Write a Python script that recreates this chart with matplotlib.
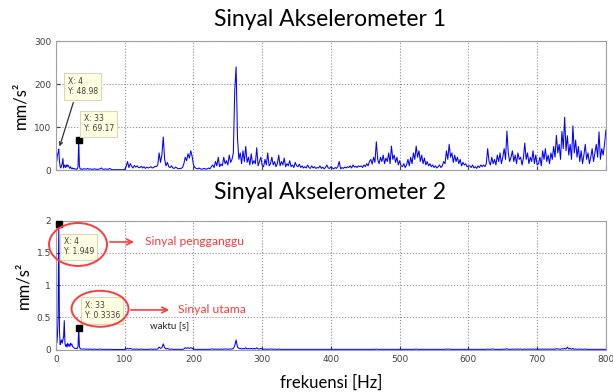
import numpy as np
import matplotlib
matplotlib.use("Agg")
import matplotlib.pyplot as plt
from matplotlib.patches import Ellipse

# frequency grid: 1 Hz steps up to 40 Hz, 2 Hz steps after that
freq_low = list(range(0, 41))
freq_high = list(range(42, 801, 2))

# accelerometer 1 spectrum [mm/s^2]
acc1_low = [30, 20, 35, 40, 48.98, 20, 8, 5, 10, 15, 27, 5, 12, 10, 6, 12, 8, 12, 10, 7,
            4, 8, 5, 3, 5, 3, 4, 3, 2, 3, 2, 3, 8, 69.17, 10, 3, 2, 3, 2, 2, 3]
acc1_high = [
    3, 2, 4, 2, 3, 2, 2, 3, 2, 2,
    2, 3, 5, 2, 2, 3, 2, 2, 4, 2,
    1, 1, 1, 1, 1, 1, 1, 1, 1, 2,
    8, 20, 6, 15, 9, 5, 11, 7, 10, 6,
    6, 9, 5, 8, 4, 7, 5, 6, 8, 5,
    6, 9, 8, 12, 40, 18, 35, 77, 25, 10,
    18, 8, 6, 10, 5, 4, 7, 5, 3, 4,
    4, 6, 15, 30, 22, 38, 28, 45, 32, 12,
    6, 4, 3, 5, 3, 2, 3, 4, 2, 3,
    5, 3, 8, 12, 6, 20, 10, 30, 8, 14,
    10, 30, 15, 22, 12, 35, 18, 25, 40, 185,
    240, 75, 25, 40, 15, 45, 20, 55, 18, 30,
    12, 38, 14, 22, 15, 52, 10, 20, 30, 10,
    8, 25, 12, 40, 10, 15, 30, 12, 20, 8,
    15, 35, 10, 20, 12, 28, 8, 15, 10, 22,
    8, 12, 6, 18, 10, 8, 14, 6, 10, 5,
    8, 5, 12, 6, 4, 10, 5, 8, 4, 6,
    5, 10, 4, 7, 3, 6, 12, 5, 4, 8,
    5, 3, 6, 4, 8, 20, 3, 6, 4, 7,
    5, 8, 6, 10, 5, 12, 7, 9, 6, 10,
    8, 10, 6, 12, 8, 15, 10, 20, 25, 14,
    30, 18, 66, 25, 15, 30, 20, 35, 15, 28,
    20, 40, 15, 56, 25, 35, 18, 30, 12, 22,
    10, 8, 15, 6, 12, 25, 10, 30, 15, 40,
    25, 56, 30, 45, 20, 35, 15, 28, 12, 20,
    10, 15, 8, 12, 6, 10, 5, 8, 12, 6,
    10, 20, 15, 45, 25, 60, 30, 40, 18, 35,
    20, 30, 15, 25, 10, 18, 12, 15, 8, 10,
    10, 6, 12, 5, 8, 4, 10, 6, 12, 8,
    12, 8, 15, 50, 20, 12, 30, 15, 25, 12,
    35, 20, 40, 15, 30, 50, 25, 91, 40, 20,
    30, 45, 20, 35, 15, 40, 25, 30, 12, 28,
    63, 25, 40, 15, 30, 20, 45, 15, 35, 12,
    15, 30, 10, 45, 25, 50, 20, 35, 15, 40,
    25, 55, 30, 81, 40, 60, 25, 90, 50, 123,
    45, 80, 35, 60, 25, 103, 40, 70, 30, 55,
    20, 45, 15, 35, 60, 25, 40, 15, 30, 50,
    20, 40, 60, 30, 89, 25, 50, 35, 60, 93,
]

# accelerometer 2 spectrum [mm/s^2]
acc2_low = [0.3, 0.1, 0.2, 0.5, 1.949, 0.3, 0.08, 0.12, 0.15, 0.1, 0.15, 0.2, 0.45, 0.1,
            0.05, 0.08, 0.04, 0.1, 0.06, 0.08, 0.05, 0.1, 0.07, 0.09, 0.05, 0.04, 0.03,
            0.02, 0.02, 0.02, 0.02, 0.02, 0.05, 0.3336, 0.05, 0.02, 0.01, 0.01, 0.01,
            0.01, 0.01]
acc2_high = [
    0.01, 0.005, 0.01, 0.005, 0.01, 0.005, 0.005, 0.01, 0.005, 0.005,
    0.005, 0.01, 0.005, 0.005, 0.005, 0.005, 0.005, 0.005, 0.005, 0.005,
    0.003, 0.003, 0.003, 0.003, 0.003, 0.003, 0.003, 0.003, 0.003, 0.005,
    0.01, 0.02, 0.01, 0.02, 0.01, 0.005, 0.01, 0.005, 0.01, 0.005,
    0.005, 0.01, 0.005, 0.005, 0.005, 0.005, 0.005, 0.005, 0.01, 0.005,
    0.005, 0.01, 0.005, 0.01, 0.04, 0.02, 0.03, 0.09, 0.03, 0.01,
    0.02, 0.01, 0.005, 0.01, 0.005, 0.005, 0.005, 0.005, 0.005, 0.005,
    0.005, 0.005, 0.01, 0.03, 0.02, 0.03, 0.02, 0.03, 0.02, 0.01,
    0.005, 0.005, 0.005, 0.005, 0.005, 0.005, 0.005, 0.005, 0.005, 0.005,
    0.005, 0.005, 0.01, 0.01, 0.005, 0.01, 0.005, 0.01, 0.005, 0.01,
    0.005, 0.01, 0.01, 0.01, 0.005, 0.01, 0.01, 0.01, 0.02, 0.06,
    0.15, 0.04, 0.02, 0.02, 0.01, 0.02, 0.01, 0.03, 0.01, 0.02,
    0.01, 0.02, 0.01, 0.02, 0.01, 0.03, 0.01, 0.01, 0.02, 0.01,
    0.005, 0.01, 0.005, 0.01, 0.005, 0.01, 0.01, 0.005, 0.01, 0.005,
    0.005, 0.01, 0.005, 0.005, 0.005, 0.005, 0.005, 0.005, 0.005, 0.005,
    0.005, 0.005, 0.005, 0.005, 0.005, 0.005, 0.005, 0.005, 0.005, 0.005,
    0.005, 0.005, 0.005, 0.005, 0.005, 0.005, 0.005, 0.005, 0.005, 0.005,
    0.005, 0.005, 0.005, 0.005, 0.005, 0.005, 0.005, 0.005, 0.005, 0.005,
    0.005, 0.005, 0.005, 0.005, 0.005, 0.005, 0.005, 0.005, 0.005, 0.005,
    0.005, 0.005, 0.005, 0.005, 0.005, 0.005, 0.005, 0.005, 0.005, 0.005,
    0.005, 0.005, 0.005, 0.005, 0.005, 0.005, 0.005, 0.005, 0.005, 0.005,
    0.005, 0.005, 0.01, 0.005, 0.005, 0.005, 0.005, 0.005, 0.005, 0.005,
    0.005, 0.005, 0.005, 0.005, 0.005, 0.005, 0.005, 0.005, 0.005, 0.005,
    0.005, 0.005, 0.005, 0.005, 0.005, 0.005, 0.005, 0.005, 0.005, 0.005,
    0.005, 0.01, 0.005, 0.005, 0.005, 0.005, 0.005, 0.005, 0.005, 0.005,
    0.005, 0.005, 0.005, 0.005, 0.005, 0.005, 0.005, 0.005, 0.005, 0.005,
    0.005, 0.005, 0.005, 0.01, 0.005, 0.01, 0.005, 0.005, 0.005, 0.005,
    0.005, 0.005, 0.005, 0.005, 0.005, 0.005, 0.005, 0.005, 0.005, 0.005,
    0.005, 0.005, 0.005, 0.005, 0.005, 0.005, 0.005, 0.005, 0.005, 0.005,
    0.005, 0.005, 0.005, 0.01, 0.005, 0.005, 0.01, 0.01, 0.005, 0.005,
    0.005, 0.005, 0.005, 0.005, 0.005, 0.01, 0.005, 0.015, 0.005, 0.005,
    0.005, 0.01, 0.005, 0.01, 0.005, 0.01, 0.005, 0.01, 0.005, 0.005,
    0.01, 0.005, 0.01, 0.005, 0.01, 0.005, 0.01, 0.005, 0.01, 0.005,
    0.005, 0.01, 0.005, 0.01, 0.005, 0.01, 0.005, 0.01, 0.005, 0.01,
    0.005, 0.01, 0.005, 0.015, 0.01, 0.01, 0.005, 0.015, 0.01, 0.02,
    0.01, 0.04, 0.01, 0.02, 0.005, 0.02, 0.005, 0.01, 0.005, 0.01,
    0.005, 0.01, 0.005, 0.005, 0.01, 0.005, 0.005, 0.005, 0.005, 0.005,
    0.005, 0.005, 0.005, 0.005, 0.005, 0.005, 0.005, 0.005, 0.005, 0.005,
]

freq = np.array(freq_low + freq_high)
acc1 = np.array(acc1_low + acc1_high)
acc2 = np.array(acc2_low + acc2_high)

peak_noise = 4      # Hz
peak_main = 33      # Hz

fig = plt.figure(figsize=(6.13, 3.92), dpi=100)
ax1 = fig.add_axes([0.0914, 0.566, 0.897, 0.329])
ax2 = fig.add_axes([0.0914, 0.108, 0.897, 0.329])

tip_kw = dict(fontsize=5.5, color="#404040", family="DejaVu Sans",
              bbox=dict(boxstyle="square,pad=0.45", fc="#ffffe1", ec="#d8d8c0", lw=0.8))


def style(ax, ymax, yticks):
    ax.set_xlim(0, 800)
    ax.set_ylim(0, ymax)
    ax.set_xticks(range(0, 801, 100))
    ax.set_yticks(yticks)
    ax.grid(True, ls=":", color="#909090", lw=0.8)
    ax.tick_params(direction="in", labelsize=6.5, colors="#404040", length=3)
    for s in ax.spines.values():
        s.set_color("#a0a0a0")
    ax.set_ylabel("mm/s²", family="Lato", fontsize=12, labelpad=4)


ax1.plot(freq, acc1, color="#0000ff", lw=0.75)
style(ax1, 300, [0, 100, 200, 300])
ax1.set_xticklabels([])

i_noise = list(freq).index(peak_noise)
i_main = list(freq).index(peak_main)

ax1.plot(peak_main, acc1[i_main], "s", color="black", ms=5)
ax1.annotate("X: %d\nY: %.2f" % (peak_noise, acc1[i_noise]), xy=(peak_noise, acc1[i_noise]),
             xytext=(9, 53), textcoords="offset pixels", ha="left", va="bottom",
             arrowprops=dict(arrowstyle="->", color="#303030", lw=0.9, relpos=(0.25, 0)),
             **tip_kw)
ax1.annotate("X: %d\nY: %.2f" % (peak_main, acc1[i_main]), xy=(peak_main, acc1[i_main]),
             xytext=(5, 7), textcoords="offset pixels", ha="left", va="bottom", **tip_kw)

ax2.plot(freq, acc2, color="#0000ff", lw=0.75)
style(ax2, 2, [0, 0.5, 1, 1.5, 2])
ax2.set_yticklabels(["0", "0.5", "1", "1.5", "2"])
ax2.plot([peak_noise, peak_main], [acc2[i_noise], acc2[i_main]], "s", color="black", ms=5,
         clip_on=False, zorder=5)
ax2.annotate("X: %d\nY: %.3f" % (peak_noise, acc2[i_noise]), xy=(peak_noise, acc2[i_noise]),
             xytext=(5, -13), textcoords="offset pixels", ha="left", va="top", **tip_kw)
ax2.annotate("X: %d\nY: %.4f" % (peak_main, acc2[i_main]), xy=(peak_main, acc2[i_main]),
             xytext=(6, 8), textcoords="offset pixels", ha="left", va="bottom", **tip_kw)

# red callouts around the two datatips
red = "#ff3b3b"
for cx, cy, w, h in [(0.04, 0.8155, 0.1055, 0.333), (0.08, 0.317, 0.1036, 0.279)]:
    ax2.add_patch(Ellipse((cx, cy), w, h, transform=ax2.transAxes, fill=False,
                          ec=red, lw=1.4, clip_on=False, zorder=6))
ax2.annotate("", xy=(0.147, 0.835), xytext=(0.093, 0.835), xycoords="axes fraction",
             arrowprops=dict(arrowstyle="->", color=red, lw=1.2))
ax2.annotate("", xy=(0.211, 0.308), xytext=(0.131, 0.308), xycoords="axes fraction",
             arrowprops=dict(arrowstyle="->", color=red, lw=1.2))
ax2.text(0.162, 0.835, "Sinyal pengganggu", transform=ax2.transAxes, color=red,
         family="Lato", fontsize=8.7, va="center")
ax2.text(0.222, 0.308, "Sinyal utama", transform=ax2.transAxes, color=red,
         family="Lato", fontsize=8.7, va="center")
ax2.text(0.171, 0.19, "waktu [s]", transform=ax2.transAxes, color="#202020",
         family="Lato", fontsize=7, va="center")
ax2.set_xlabel("frekuensi [Hz]", family="Lato", fontsize=12, labelpad=8)

fig.text(0.538, 0.949, "Sinyal Akselerometer 1", family="Lato", fontsize=16.5,
         ha="center", va="center")
fig.text(0.538, 0.508, "Sinyal Akselerometer 2", family="Lato", fontsize=16.5,
         ha="center", va="center")

fig.savefig("out.png", dpi=100)
